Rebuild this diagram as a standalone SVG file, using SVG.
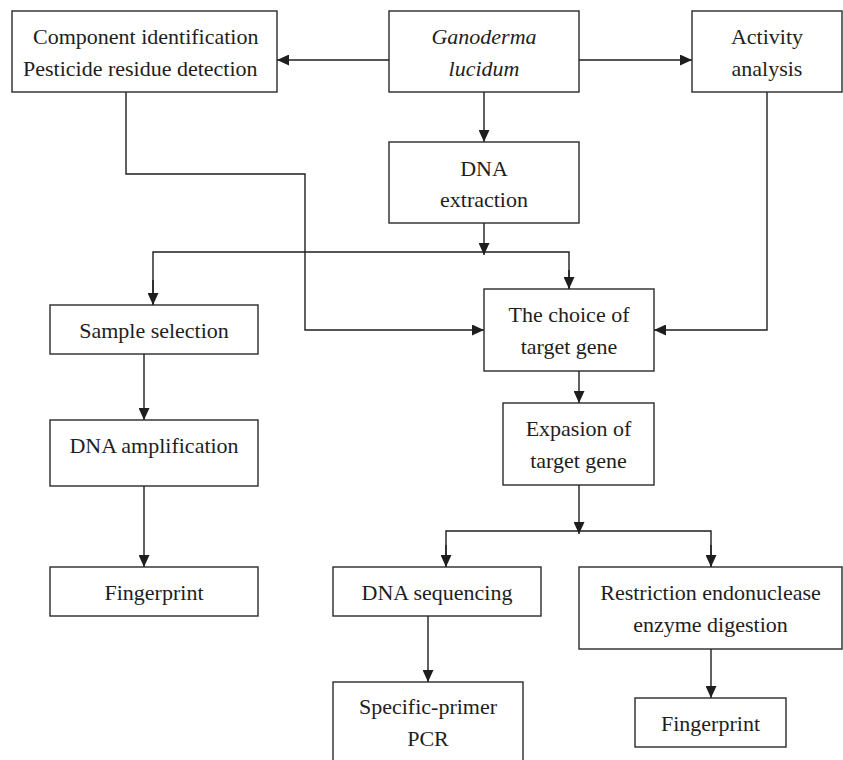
<svg xmlns="http://www.w3.org/2000/svg" width="843" height="760" viewBox="0 0 843 760">
<style>
.box{fill:#fff;stroke:#2a2a2a;stroke-width:1.4}
.t{font-family:"Liberation Serif","Times New Roman",serif;font-size:22px;fill:#1e1e1e;text-anchor:middle}
.s{text-anchor:start}
.i{font-style:italic}
.c{fill:none;stroke:#1e1e1e;stroke-width:1.4}
</style>
<defs>
<marker id="ah" markerUnits="userSpaceOnUse" markerWidth="12" markerHeight="11" refX="12" refY="5.5" orient="auto">
<path d="M0,0 L12,5.5 L0,11 z" fill="#1e1e1e"/>
</marker>
</defs>
<rect width="843" height="760" fill="#fff"/>
<g id="connectors">
<line class="c" x1="389" y1="60" x2="277" y2="60" marker-end="url(#ah)"/>
<line class="c" x1="579" y1="60" x2="692" y2="60" marker-end="url(#ah)"/>
<line class="c" x1="484" y1="92" x2="484" y2="142" marker-end="url(#ah)"/>
<line class="c" x1="484" y1="223" x2="484" y2="255" marker-end="url(#ah)"/>
<polyline class="c" points="153,305 153,252 569,252 569,289"/>
<line class="c" x1="153" y1="280" x2="153" y2="305" marker-end="url(#ah)"/>
<line class="c" x1="569" y1="270" x2="569" y2="289" marker-end="url(#ah)"/>
<polyline class="c" points="126,92 126,174 305,174 305,330 484,330" marker-end="url(#ah)"/>
<polyline class="c" points="767,92 767,330 654,330" marker-end="url(#ah)"/>
<line class="c" x1="144" y1="354" x2="144" y2="420" marker-end="url(#ah)"/>
<line class="c" x1="144" y1="486" x2="144" y2="567" marker-end="url(#ah)"/>
<line class="c" x1="579" y1="371" x2="579" y2="403" marker-end="url(#ah)"/>
<line class="c" x1="579" y1="485" x2="579" y2="534" marker-end="url(#ah)"/>
<polyline class="c" points="446,567 446,531 711,531 711,567"/>
<line class="c" x1="446" y1="545" x2="446" y2="567" marker-end="url(#ah)"/>
<line class="c" x1="711" y1="545" x2="711" y2="567" marker-end="url(#ah)"/>
<line class="c" x1="428" y1="616" x2="428" y2="682" marker-end="url(#ah)"/>
<line class="c" x1="711" y1="649" x2="711" y2="698" marker-end="url(#ah)"/>
</g>
<g id="component">
<rect class="box" x="12" y="11" width="265" height="81"/>
<text class="t s" x="33" y="44">Component identification</text>
<text class="t s" x="23" y="76">Pesticide residue detection</text>
</g>
<g id="ganoderma">
<rect class="box" x="389" y="11" width="190" height="81"/>
<text class="t i" x="484" y="44">Ganoderma</text>
<text class="t i" x="484" y="76">lucidum</text>
</g>
<g id="activity">
<rect class="box" x="692" y="11" width="150" height="81"/>
<text class="t" x="767" y="44">Activity</text>
<text class="t" x="767" y="76">analysis</text>
</g>
<g id="dna-extraction">
<rect class="box" x="389" y="142" width="190" height="81"/>
<text class="t" x="484" y="176">DNA</text>
<text class="t" x="484" y="207">extraction</text>
</g>
<g id="sample-selection">
<rect class="box" x="50" y="305" width="208" height="49"/>
<text class="t" x="154" y="338">Sample selection</text>
</g>
<g id="dna-amplification">
<rect class="box" x="50" y="420" width="208" height="66"/>
<text class="t" x="154" y="452.5">DNA amplification</text>
</g>
<g id="fingerprint-left">
<rect class="box" x="50" y="567" width="208" height="49"/>
<text class="t" x="154" y="599.5">Fingerprint</text>
</g>
<g id="choice">
<rect class="box" x="484" y="289" width="170" height="82"/>
<text class="t" x="569" y="322">The choice of</text>
<text class="t" x="569" y="354">target gene</text>
</g>
<g id="expasion">
<rect class="box" x="503" y="403" width="151" height="82"/>
<text class="t" x="578.5" y="436">Expasion of</text>
<text class="t" x="578.5" y="468">target gene</text>
</g>
<g id="dna-sequencing">
<rect class="box" x="333" y="567" width="208" height="49"/>
<text class="t" x="437" y="600">DNA sequencing</text>
</g>
<g id="restriction">
<rect class="box" x="579" y="567" width="263" height="82"/>
<text class="t" x="710.5" y="600">Restriction endonuclease</text>
<text class="t" x="710.5" y="632">enzyme digestion</text>
</g>
<g id="pcr">
<rect class="box" x="333" y="682" width="190" height="90"/>
<text class="t" x="428" y="714">Specific-primer</text>
<text class="t" x="428" y="746">PCR</text>
</g>
<g id="fingerprint-right">
<rect class="box" x="635" y="698" width="151" height="49"/>
<text class="t" x="710.5" y="731">Fingerprint</text>
</g>
</svg>
